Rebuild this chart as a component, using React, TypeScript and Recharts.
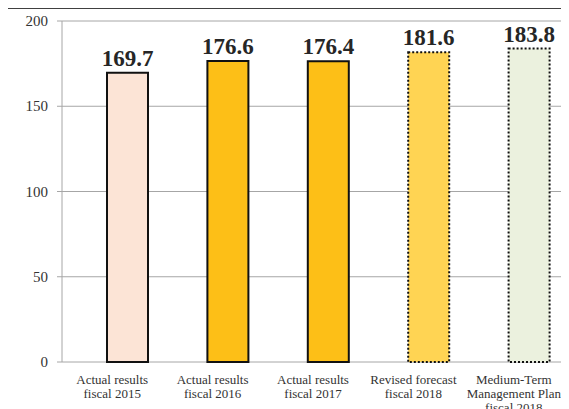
import { BarChart, Bar, XAxis, YAxis, CartesianGrid, Cell, LabelList, Rectangle } from "recharts";

const categories = [
  "Actual results\nfiscal 2015",
  "Actual results\nfiscal 2016",
  "Actual results\nfiscal 2017",
  "Revised forecast\nfiscal 2018",
  "Medium-Term\nManagement Plan\nfiscal 2018",
];
const values = [169.7, 176.6, 176.4, 181.6, 183.8];
const fills = ["#FCE4D6", "#FDBF17", "#FDBF17", "#FFD453", "#EBF1DE"];
const dashed = [false, false, false, true, true];
const yTicks = [0, 50, 100, 150, 200];
const edgeTicks = [0, 1, 2, 3, 4, 5];

const data = categories.map((name, i) => ({ name, value: values[i], pos: i + 0.5 }));

const FONT = '"Liberation Serif", "Times New Roman", serif';
const GRID = "#A6A6A6";
// bars sit a little right of the category centre
const BAR_SHIFT = 15;

const ShiftedBar = (props: any) => <Rectangle {...props} x={props.x + BAR_SHIFT} />;

const CategoryTick = ({ x, y, payload }: any) => {
  const lines = String(payload.value).split("\n");
  return (
    <text x={x} y={y} textAnchor="middle" fontFamily={FONT} fontSize={13} fill="#333">
      {lines.map((l, i) => (
        <tspan key={i} x={x} dy={14}>
          {l}
        </tspan>
      ))}
    </text>
  );
};

const ValueTick = ({ x, y, payload }: any) => (
  <text x={x} y={y} dy={5} textAnchor="end" fontFamily={FONT} fontSize={15} fill="#333">
    {payload.value}
  </text>
);

const ValueLabel = ({ x, y, width, value }: any) => (
  <text
    x={x + width / 2 + BAR_SHIFT}
    y={y - 7}
    textAnchor="middle"
    fontFamily={FONT}
    fontWeight="bold"
    fontSize={23}
    fill="#262626"
  >
    {Number(value).toFixed(1)}
  </text>
);

export default function App() {
  return (
    <div
      style={{
        marginLeft: -1,
        width: 580,
        height: 420,
        borderLeft: "1px solid #404040",
        borderTop: "1px solid #404040",
        background: "#fff",
        fontFamily: FONT,
      }}
    >
      <BarChart
        width={579}
        height={419}
        data={data}
        margin={{ top: 12, right: 23, left: 14, bottom: 16 }}
      >
        <CartesianGrid vertical={false} stroke={GRID} />
        <XAxis
          xAxisId="edges"
          type="number"
          dataKey="pos"
          domain={[0, 5]}
          ticks={edgeTicks}
          height={0}
          stroke={GRID}
          tickSize={4}
          tick={() => <g />}
        />
        <XAxis
          dataKey="name"
          interval={0}
          axisLine={false}
          tickLine={false}
          height={50}
          tick={<CategoryTick />}
        />
        <YAxis
          domain={[0, 200]}
          ticks={yTicks}
          width={40}
          stroke={GRID}
          tickSize={5}
          tickMargin={9}
          tick={<ValueTick />}
        />
        <Bar dataKey="value" barSize={41} shape={<ShiftedBar />} isAnimationActive={false}>
          {data.map((_, i) => (
            <Cell
              key={i}
              fill={fills[i]}
              stroke="#111"
              strokeWidth={2}
              strokeDasharray={dashed[i] ? "2 2" : undefined}
            />
          ))}
          <LabelList dataKey="value" content={<ValueLabel />} />
        </Bar>
      </BarChart>
    </div>
  );
}
